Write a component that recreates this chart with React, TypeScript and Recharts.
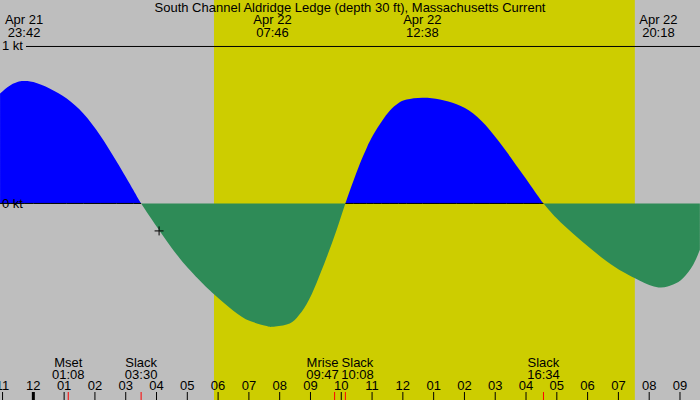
import {
  ComposedChart,
  Area,
  Line,
  Scatter,
  XAxis,
  YAxis,
  ReferenceArea,
  ReferenceLine,
} from 'recharts';

const W = 700;
const H = 400;
const FONT = '"Liberation Sans", Arial, sans-serif';

const GRAY = '#bebebe';
const DAY = '#cdcd00';
const FLOOD = '#0000ff';
const EBB = '#2e8b57';

// hours from midnight of Apr 22 (negative = still Apr 21), current speed in knots
const TIMES = [
  -1.081, -0.756, -0.432, -0.3, 0, 0.542, 1.084, 1.623, 2.166, 2.708, 3.247, 3.5,
  4.114, 4.763, 5.412, 5.867, 6.494, 7.036, 7.578, 7.767, 8.227, 8.552, 8.877, 9.201, 9.526, 9.851, 10.133,
  10.39, 10.607, 10.825, 11.039, 11.312, 11.581, 11.851, 12.123, 12.633, 13.205, 13.747, 14.286, 14.828, 15.37, 15.909, 16.451, 16.567,
  16.994, 17.532, 18.075, 18.617, 19.156, 19.698, 20.3, 20.779, 21.104, 21.429, 21.646,
];
const KNOTS = [
  0.7, 0.752, 0.778, 0.78, 0.773, 0.731, 0.668, 0.573, 0.435, 0.265, 0.085, 0,
  -0.178, -0.352, -0.492, -0.578, -0.683, -0.749, -0.781, -0.786, -0.771, -0.729, -0.641, -0.505, -0.343, -0.167, 0,
  0.141, 0.254, 0.354, 0.437, 0.522, 0.592, 0.638, 0.662, 0.674, 0.663, 0.632, 0.573, 0.467, 0.329, 0.181, 0.03, 0,
  -0.095, -0.193, -0.284, -0.368, -0.437, -0.492, -0.535, -0.517, -0.475, -0.39, -0.295,
];

const HOUR_TICKS = [-1, 0, 1, 2, 3, 4, 5, 6, 7, 8, 9, 10, 11, 12, 13, 14, 15, 16, 17, 18, 19, 20, 21];
const HOUR_LABELS = ['11', '12', '01', '02', '03', '04', '05', '06', '07', '08', '09', '10', '11', '12', '01', '02', '03', '04', '05', '06', '07', '08', '09'];

const EXTREME_DAYS = ['Apr 21', 'Apr 22', 'Apr 22', 'Apr 22'];
const EXTREME_CLOCKS = ['23:42', '07:46', '12:38', '20:18'];

const EVENT_NAMES = ['Mset', 'Slack', 'Mrise', 'Slack', 'Slack'];
const EVENT_CLOCKS = ['01:08', '03:30', '09:47', '10:08', '16:34'];

const SUNRISE = '05:52';
const SUNSET = '19:32';
const NOW_CLOCK = '04:05';
const NOW_KNOTS = -0.175;

const X_DOMAIN: [number, number] = [-1.083, 21.65];
const Y_DOMAIN: [number, number] = [-1.252, 1.296];

const toHours = (clock: string, day = 'Apr 22') => {
  const [h, m] = clock.split(':').map(Number);
  return (day === 'Apr 21' ? -24 : 0) + h + m / 60;
};

const rows = TIMES.map((t, i) => ({
  t,
  knots: KNOTS[i],
  zero: KNOTS[i] >= 0 ? 0 : null,
}));

const EXTREME_TIMES = EXTREME_CLOCKS.map((c, i) => toHours(c, EXTREME_DAYS[i]));
const EVENT_TIMES = EVENT_CLOCKS.map((c) => toHours(c));
const nowPoint = [{ t: toHours(NOW_CLOCK), knots: NOW_KNOTS }];

// push apart event labels that would overlap
const PX_PER_HOUR = W / (X_DOMAIN[1] - X_DOMAIN[0]);
const LABEL_HALF = 16.5;
const eventShift = EVENT_TIMES.map(() => 0);
for (let i = 0; i < EVENT_TIMES.length - 1; i++) {
  const gap = (EVENT_TIMES[i + 1] - EVENT_TIMES[i]) * PX_PER_HOUR;
  const need = 2 * LABEL_HALF + 2;
  if (gap < need) {
    eventShift[i] -= (need - gap) / 2;
    eventShift[i + 1] += (need - gap) / 2;
  }
}

const zeroOffset = Y_DOMAIN[1] / (Y_DOMAIN[1] - Y_DOMAIN[0]);

const textStyle = { fontFamily: FONT, fontSize: 13, fill: '#000' };

function HourTick(props: any) {
  const { x, payload } = props;
  const i = HOUR_TICKS.indexOf(payload.value);
  return (
    <g>
      <line x1={x} x2={x} y1={392} y2={400} stroke="#000" strokeWidth={payload.value === 0 ? 3 : 1} />
      <text x={x} y={389.5} textAnchor="middle" style={textStyle}>
        {HOUR_LABELS[i]}
      </text>
    </g>
  );
}

function EventTick(props: any) {
  const { x, payload } = props;
  const i = EVENT_TIMES.indexOf(payload.value);
  const cx = x + eventShift[i];
  return (
    <g>
      <line x1={x} x2={x} y1={392} y2={400} stroke="#ff0000" strokeWidth={1} />
      <text x={cx} y={366.5} textAnchor="middle" style={textStyle}>
        {EVENT_NAMES[i]}
      </text>
      <text x={cx} y={378.5} textAnchor="middle" style={textStyle}>
        {EVENT_CLOCKS[i]}
      </text>
    </g>
  );
}

function ExtremeTick(props: any) {
  const { x, payload } = props;
  const i = EXTREME_TIMES.indexOf(payload.value);
  return (
    <g>
      <text x={x} y={24} textAnchor="middle" style={textStyle}>
        {EXTREME_DAYS[i]}
      </text>
      <text x={x} y={36.5} textAnchor="middle" style={textStyle}>
        {EXTREME_CLOCKS[i]}
      </text>
    </g>
  );
}

function Cross(props: any) {
  const { cx, cy } = props;
  return (
    <path
      d={`M${cx - 4.5},${cy}H${cx + 4.5}M${cx},${cy - 4.5}V${cy + 4.5}`}
      stroke="#000"
      strokeWidth={1}
      fill="none"
    />
  );
}

// axes need a non-zero height to be drawn at all
const AXIS_H = 0.01;

export default function App() {
  return (
    <div style={{ position: 'absolute', left: 0, top: 0, width: W, height: H, background: GRAY }}>
      <ComposedChart width={W} height={H} data={rows} margin={{ top: 0, right: 0, bottom: 0, left: 0 }}>
        <defs>
          <linearGradient id="flowFill" x1="0" y1="0" x2="0" y2={H} gradientUnits="userSpaceOnUse">
            <stop offset={zeroOffset} stopColor={FLOOD} />
            <stop offset={zeroOffset} stopColor={EBB} />
          </linearGradient>
          <clipPath id="labelGap">
            <rect x={26} y={0} width={W} height={H} />
          </clipPath>
        </defs>
        <XAxis
          dataKey="t"
          type="number"
          domain={X_DOMAIN}
          allowDataOverflow
          ticks={HOUR_TICKS}
          interval={0}
          height={AXIS_H}
          axisLine={false}
          tickLine={false}
          tick={(p: any) => <HourTick {...p} />}
        />
        <XAxis
          xAxisId="events"
          dataKey="t"
          type="number"
          domain={X_DOMAIN}
          allowDataOverflow
          ticks={EVENT_TIMES}
          interval={0}
          height={AXIS_H}
          axisLine={false}
          tickLine={false}
          tick={(p: any) => <EventTick {...p} />}
        />
        <XAxis
          xAxisId="extremes"
          dataKey="t"
          orientation="top"
          type="number"
          domain={X_DOMAIN}
          allowDataOverflow
          ticks={EXTREME_TIMES}
          interval={0}
          height={AXIS_H}
          axisLine={false}
          tickLine={false}
          tick={(p: any) => <ExtremeTick {...p} />}
        />
        <YAxis type="number" domain={Y_DOMAIN} allowDataOverflow hide />
        <ReferenceArea
          x1={toHours(SUNRISE)}
          x2={toHours(SUNSET)}
          fill={DAY}
          fillOpacity={1}
          stroke="none"
        />
        <ReferenceLine y={1} stroke="#000" strokeWidth={1} clipPath="url(#labelGap)" />
        <Area
          dataKey="knots"
          type="natural"
          baseValue={0}
          fill="url(#flowFill)"
          fillOpacity={1}
          stroke="none"
          dot={false}
          activeDot={false}
          isAnimationActive={false}
        />
        <Line
          dataKey="zero"
          type="linear"
          stroke="#000"
          strokeWidth={1}
          dot={false}
          activeDot={false}
          connectNulls={false}
          clipPath="url(#labelGap)"
          isAnimationActive={false}
        />
        <Scatter data={nowPoint} dataKey="knots" shape={(p: any) => <Cross {...p} />} isAnimationActive={false} />
      </ComposedChart>
      <svg
        width={W}
        height={H}
        style={{ position: 'absolute', left: 0, top: 0, pointerEvents: 'none' }}
      >
        <text x={W / 2} y={11.5} textAnchor="middle" style={textStyle}>
          South Channel Aldridge Ledge (depth 30 ft), Massachusetts Current
        </text>
        <text x={2} y={50} style={textStyle}>1 kt</text>
        <text x={2} y={207.5} style={textStyle}>0 kt</text>
      </svg>
    </div>
  );
}
